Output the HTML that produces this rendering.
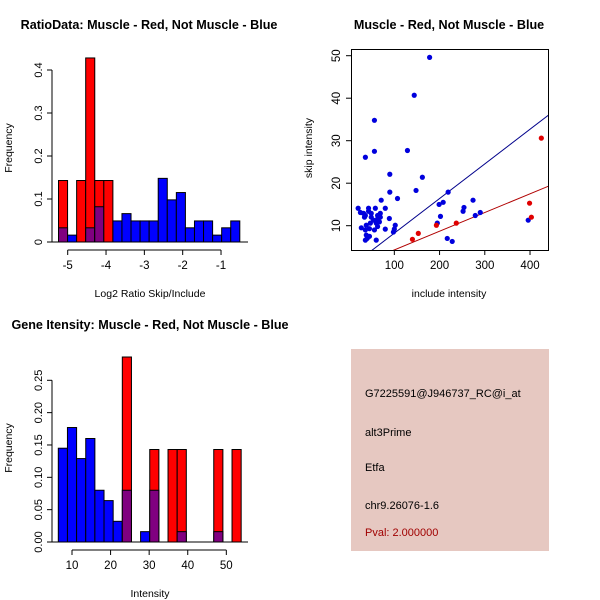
<!DOCTYPE html>
<html><head><meta charset="utf-8"><style>
html,body{margin:0;padding:0;background:#fff}
svg{display:block;font-family:"Liberation Sans",Arial,sans-serif}
</style></head><body>
<svg id="c" width="600" height="600" xmlns="http://www.w3.org/2000/svg">
<rect width="600" height="600" fill="#fff"/>
<text x="149" y="29" font-size="12.6" font-weight="bold" text-anchor="middle">RatioData: Muscle - Red, Not Muscle - Blue</text>
<text x="449" y="29" font-size="12.6" font-weight="bold" text-anchor="middle">Muscle - Red, Not Muscle - Blue</text>
<text x="150" y="329" font-size="12.6" font-weight="bold" text-anchor="middle">Gene Itensity: Muscle - Red, Not Muscle - Blue</text>
<text x="150" y="297" font-size="10.5" text-anchor="middle">Log2 Ratio Skip/Include</text>
<text x="12" y="148" font-size="10.5" text-anchor="middle" transform="rotate(-90 12 148)">Frequency</text>
<text x="449" y="297" font-size="10.5" text-anchor="middle">include intensity</text>
<text x="312" y="148" font-size="10.5" text-anchor="middle" transform="rotate(-90 312 148)">skip intensity</text>
<text x="150" y="597" font-size="10.5" text-anchor="middle">Intensity</text>
<text x="12" y="448" font-size="10.5" text-anchor="middle" transform="rotate(-90 12 448)">Frequency</text>
<g id="h1"></g><g id="sc"></g><g id="h2"></g>
<g>
<rect x="351" y="349" width="198" height="202" fill="#e6c8c1"/>
<text x="365" y="397" font-size="11">G7225591@J946737_RC@i_at</text>
<text x="365" y="436" font-size="11">alt3Prime</text>
<text x="365" y="471" font-size="11">Etfa</text>
<text x="365" y="509" font-size="11">chr9.26076-1.6</text>
<text x="365" y="536" font-size="11" fill="#a00000">Pval: 2.000000</text>
</g>
</svg>
<script>
const ratioBinStart = -5.24, ratioBinWidth = 0.2365;
const ratioRed  = [0.143,0,0.143,0.428,0.143,0.143,0,0,0,0,0,0,0,0,0,0,0,0,0,0];
const ratioBlue = [0.033,0.016,0,0.033,0.082,0,0.049,0.066,0.049,0.049,0.049,0.148,0.098,0.115,0.033,0.049,0.049,0.016,0.033,0.049];
const ratioXTicks = [-5,-4,-3,-2,-1];
const ratioYTicks = [0,0.1,0.2,0.3,0.4];

const intBinStart = 6.45, intBinWidth = 2.37;
const intRed  = [0,0,0,0,0,0,0,0.286,0,0,0.143,0,0.143,0.143,0,0,0,0.143,0,0.143];
const intBlue = [0.145,0.177,0.129,0.160,0.080,0.064,0.032,0.080,0,0.016,0.080,0,0,0.016,0,0,0,0.016,0,0];
const intXTicks = [10,20,30,40,50];
const intYTicks = [0,0.05,0.10,0.15,0.20,0.25];
const intYLabels = ["0.00","0.05","0.10","0.15","0.20","0.25"];

const blueX = [178,144,56,56,36,129,90,162,148,90,219,107,71,274,208,199,254,252,290,279,202,195,396,217,228,89,80,80,98,100,102,60,69,58,20,25,36,27,43,43,34,49,49,54,63,67,60,47,38,45,36,56,63,38,45,40,32,36,69,63];
const blueY = [49.6,40.7,34.8,27.5,26.1,27.7,22.1,21.4,18.3,17.9,17.9,16.4,16.0,16.0,15.5,15.0,14.3,13.4,13.1,12.4,12.2,10.6,11.3,7.0,6.3,11.7,14.1,9.2,8.5,9.2,10.1,6.6,12.9,14.1,14.1,13.1,6.6,9.5,14.1,13.4,12.0,12.9,12.0,11.3,11.6,10.9,10.6,10.6,10.1,9.3,9.0,9.0,9.8,7.8,7.5,7.0,12.9,12.4,12.0,12.4];
const redX = [425,399,403,237,193,153,140];
const redY = [30.6,15.3,12.0,10.6,10.1,8.2,6.8];
const blueFit = [0.0815, 0.1];
const redFit = [0.044, -0.1];
const scXTicks = [100,200,300,400];
const scYTicks = [10,20,30,40,50];

const NS="http://www.w3.org/2000/svg";
function mk(parent, tag, attrs){const e=document.createElementNS(NS,tag);for(const k in attrs)e.setAttribute(k,attrs[k]);parent.appendChild(e);return e;}

function hist(g, name, x0, w, red, blue, xs, ys, xticks, yticks, ylabels, axX, axY){
  for(let i=0;i<red.length;i++){
    const a=x0+i*w,b=a+w,r=red[i],bl=blue[i];
    if(r>0){const e=mk(g,'rect',{x:xs(a),y:ys(r),width:xs(b)-xs(a),height:ys(0)-ys(r),fill:'#ff0000',stroke:'#000','stroke-width':1});
      
      }
    if(bl>0){const e=mk(g,'rect',{x:xs(a),y:ys(bl),width:xs(b)-xs(a),height:ys(0)-ys(bl),fill:r>0?'#800080':'#0000ff',stroke:'#000','stroke-width':1});
      
      }
  }
  const ya=mk(g,'line',{x1:axY,x2:axY,y1:ys(yticks[0]),y2:ys(yticks[yticks.length-1]),stroke:'#000'});
  
  
  yticks.forEach((v,i)=>{mk(g,'line',{x1:axY-5,x2:axY,y1:ys(v),y2:ys(v),stroke:'#000'});
    const t=mk(g,'text',{x:axY-10,y:ys(v),'font-size':11,'text-anchor':'middle',transform:`rotate(-90 ${axY-10} ${ys(v)})`});t.textContent=ylabels?ylabels[i]:String(v);
    
    });
  const xa=mk(g,'line',{x1:xs(xticks[0]),x2:xs(xticks[xticks.length-1]),y1:axX,y2:axX,stroke:'#000'});
  
  
  xticks.forEach(v=>{mk(g,'line',{x1:xs(v),x2:xs(v),y1:axX,y2:axX+5,stroke:'#000'});
    const t=mk(g,'text',{x:xs(v),y:axX+19,'font-size':11.5,'text-anchor':'middle'});t.textContent=String(v);
    
    });
}
const xs1=v=>67.7+(v+5)*38.33, ys1=v=>242-v*430;
const g1=document.getElementById('h1');
mk(g1,'line',{x1:52,x2:248,y1:242,y2:242,stroke:'#000'});
hist(g1,'ratio-hist',ratioBinStart,ratioBinWidth,ratioRed,ratioBlue,xs1,ys1,ratioXTicks,ratioYTicks,null,250,52);
const xs2=v=>72+(v-10)*3.858, ys2=v=>542-v*646.8;
const g2=document.getElementById('h2');
mk(g2,'line',{x1:52,x2:248,y1:542,y2:542,stroke:'#000'});
hist(g2,'intensity-hist',intBinStart,intBinWidth,intRed,intBlue,xs2,ys2,intXTicks,intYTicks,intYLabels,550,52);
const sx=v=>349.1+v*0.4523, sy=v=>268.2-v*4.25;
const g3=document.getElementById('sc');
const box=mk(g3,'rect',{x:351.5,y:49.5,width:197,height:201,fill:'none',stroke:'#000'});


const clip=mk(g3,'clipPath',{id:'scclip'});mk(clip,'rect',{x:352,y:50,width:196,height:200});
const pts=mk(g3,'g',{'clip-path':'url(#scclip)'});
[[blueFit,'#00008b','blue-fit-line'],[redFit,'#b00000','red-fit-line']].forEach(([f,c,n])=>{
  const l=mk(pts,'line',{x1:sx(0),y1:sy(f[1]),x2:sx(450),y2:sy(f[0]*450+f[1]),stroke:c});
  
  });
blueX.forEach((x,i)=>{const c=mk(pts,'circle',{cx:sx(x),cy:sy(blueY[i]),r:2.6,fill:'#0000dd'});
  
  });
redX.forEach((x,i)=>{const c=mk(pts,'circle',{cx:sx(x),cy:sy(redY[i]),r:2.6,fill:'#e00000'});
  
  });
scXTicks.forEach(v=>{mk(g3,'line',{x1:sx(v),x2:sx(v),y1:250,y2:255,stroke:'#000'});
  const t=mk(g3,'text',{x:sx(v),y:269,'font-size':11.5,'text-anchor':'middle'});t.textContent=String(v);
  
  });
scYTicks.forEach(v=>{mk(g3,'line',{x1:346,x2:351,y1:sy(v),y2:sy(v),stroke:'#000'});
  const t=mk(g3,'text',{x:340,y:sy(v),'font-size':11.5,'text-anchor':'middle',transform:`rotate(-90 340 ${sy(v)})`});t.textContent=String(v);
  
  });
</script>
</body></html>
